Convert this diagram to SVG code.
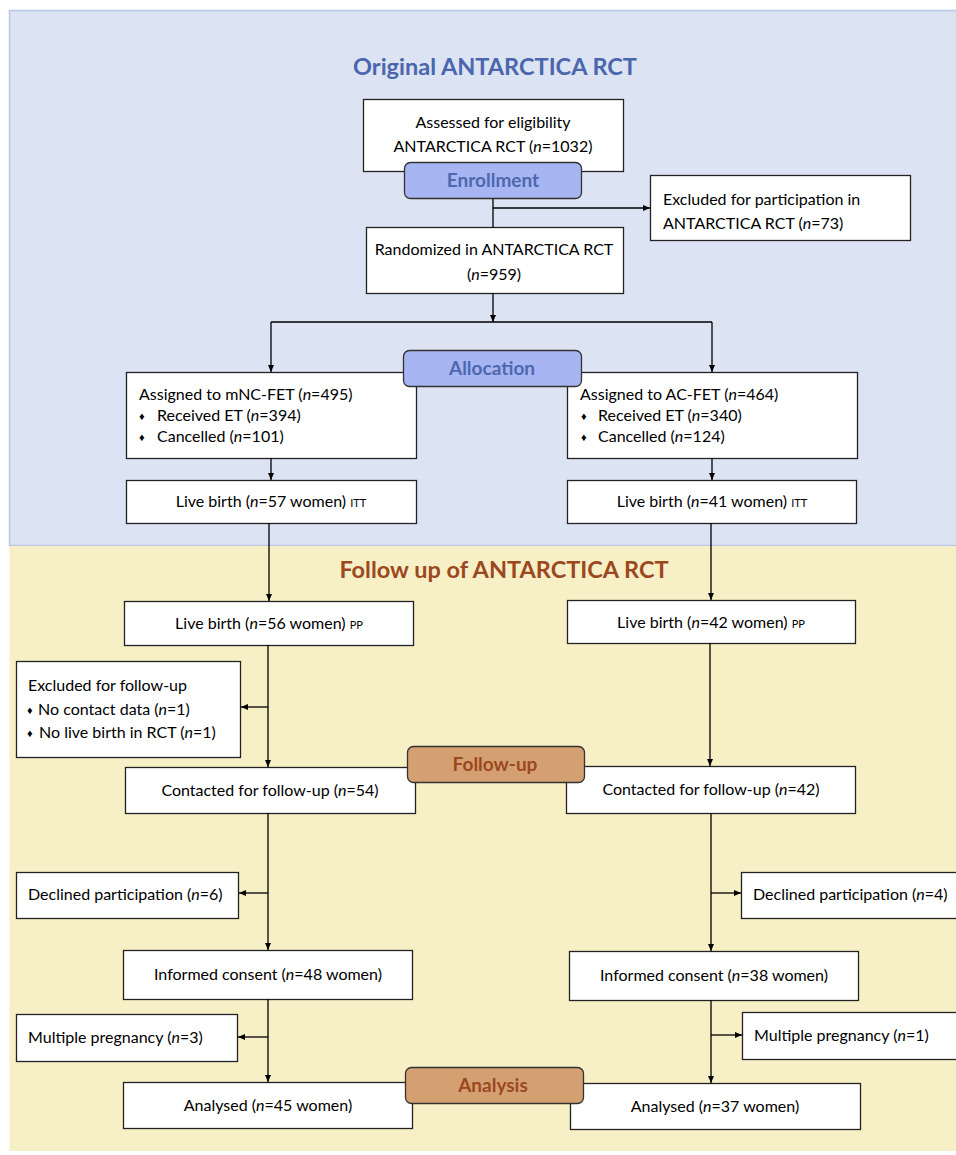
<svg xmlns="http://www.w3.org/2000/svg" width="956" height="1155" viewBox="0 0 956 1155">
<defs>
<marker id="ah" markerWidth="8" markerHeight="8" refX="7" refY="4" orient="auto" markerUnits="userSpaceOnUse">
<path d="M0,1 L7,4 L0,7 z" fill="#000"/>
</marker>
<style>
.box{fill:#fff;stroke:#222;stroke-width:1.3}
.t{font-family:Lato,"Open Sans","Liberation Sans",sans-serif;font-size:16px;fill:#000}
.c{text-anchor:middle}
.sm{font-size:11px}
.b{font-size:11px}
.con{fill:none;stroke:#000;stroke-width:1.3}
.arr{marker-end:url(#ah)}
.lblB{fill:#a7b5f3;stroke:#333;stroke-width:1.3}
.lblO{fill:#d4a072;stroke:#333;stroke-width:1.3}
.lt{font-family:Lato,"Open Sans","Liberation Sans",sans-serif;font-size:19px;font-weight:bold;text-anchor:middle}
.title{font-family:Lato,"Open Sans","Liberation Sans",sans-serif;font-size:23.5px;font-weight:bold;text-anchor:middle}
</style>
</defs>
<rect width="956" height="1155" fill="#fff"/>
<g id="panel-original">
<rect x="9.5" y="10.5" width="950" height="535" fill="#dce3f2" stroke="#b9c8e8" stroke-width="1.5"/>
<text class="title" x="495" y="75" fill="#4b66ad">Original ANTARCTICA RCT</text>
</g>
<g id="panel-followup">
<rect x="9.5" y="546" width="950" height="605" fill="#f7efc5"/>
<text class="title" x="504" y="578" fill="#9c481f">Follow up of ANTARCTICA RCT</text>
</g>

<g id="n-assessed">
<rect class="box" x="363.5" y="99.5" width="260" height="72"/>
<text class="t c" x="493" y="128">Assessed for eligibility</text>
<text class="t c" x="493" y="152">ANTARCTICA RCT (<tspan font-style="italic">n</tspan>=1032)</text>
</g>
<g id="n-excluded">
<rect class="box" x="650.5" y="175.5" width="260" height="65"/>
<text class="t" x="663" y="205">Excluded for participation in</text>
<text class="t" x="663" y="229">ANTARCTICA RCT (<tspan font-style="italic">n</tspan>=73)</text>
</g>
<g id="n-randomized">
<rect class="box" x="366.5" y="227.5" width="257" height="66"/>
<text class="t c" x="494" y="255">Randomized in ANTARCTICA RCT</text>
<text class="t c" x="494" y="280">(<tspan font-style="italic">n</tspan>=959)</text>
</g>
<g id="n-mnc">
<rect class="box" x="126.5" y="372.5" width="290" height="86"/>
<text class="t" x="139" y="400">Assigned to mNC-FET (<tspan font-style="italic">n</tspan>=495)</text>
<text class="t b" x="139" y="420">♦</text>
<text class="t" x="157" y="421">Received ET (<tspan font-style="italic">n</tspan>=394)</text>
<text class="t b" x="139" y="441">♦</text>
<text class="t" x="157" y="442">Cancelled (<tspan font-style="italic">n</tspan>=101)</text>
</g>
<g id="n-ac">
<rect class="box" x="567.5" y="372.5" width="290" height="86"/>
<text class="t" x="580" y="400">Assigned to AC-FET (<tspan font-style="italic">n</tspan>=464)</text>
<text class="t b" x="581" y="420">♦</text>
<text class="t" x="598" y="421">Received ET (<tspan font-style="italic">n</tspan>=340)</text>
<text class="t b" x="581" y="441">♦</text>
<text class="t" x="598" y="442">Cancelled (<tspan font-style="italic">n</tspan>=124)</text>
</g>
<g id="n-itt-left">
<rect class="box" x="126.5" y="480.5" width="290" height="43"/>
<text class="t c" x="271" y="507">Live birth (<tspan font-style="italic">n</tspan>=57 women) <tspan class="sm">ITT</tspan></text>
</g>
<g id="n-itt-right">
<rect class="box" x="567.5" y="480.5" width="289" height="43"/>
<text class="t c" x="712" y="507">Live birth (<tspan font-style="italic">n</tspan>=41 women) <tspan class="sm">ITT</tspan></text>
</g>
<g id="n-pp-left">
<rect class="box" x="124.5" y="601.5" width="289" height="44"/>
<text class="t c" x="269" y="629">Live birth (<tspan font-style="italic">n</tspan>=56 women) <tspan class="sm">PP</tspan></text>
</g>
<g id="n-pp-right">
<rect class="box" x="567.5" y="600.5" width="288" height="43"/>
<text class="t c" x="711" y="628">Live birth (<tspan font-style="italic">n</tspan>=42 women) <tspan class="sm">PP</tspan></text>
</g>
<g id="n-excl-fu">
<rect class="box" x="16.5" y="661.5" width="224" height="96"/>
<text class="t" x="28" y="691">Excluded for follow-up</text>
<text class="t b" x="27" y="714">♦</text>
<text class="t" x="38" y="715">No contact data (<tspan font-style="italic">n</tspan>=1)</text>
<text class="t b" x="27" y="737">♦</text>
<text class="t" x="39" y="738">No live birth in RCT (<tspan font-style="italic">n</tspan>=1)</text>
</g>
<g id="n-contact-left">
<rect class="box" x="125.5" y="767.5" width="290" height="46"/>
<text class="t c" x="270" y="796">Contacted for follow-up (<tspan font-style="italic">n</tspan>=54)</text>
</g>
<g id="n-contact-right">
<rect class="box" x="566.5" y="766.5" width="289" height="47"/>
<text class="t c" x="711" y="795">Contacted for follow-up (<tspan font-style="italic">n</tspan>=42)</text>
</g>
<g id="n-declined-left">
<rect class="box" x="16.5" y="872.5" width="222" height="46"/>
<text class="t" x="28" y="900">Declined participation (<tspan font-style="italic">n</tspan>=6)</text>
</g>
<g id="n-declined-right">
<rect class="box" x="741.5" y="872.5" width="220" height="46"/>
<text class="t" x="753" y="900">Declined participation (<tspan font-style="italic">n</tspan>=4)</text>
</g>
<g id="n-consent-left">
<rect class="box" x="123.5" y="950.5" width="289" height="49"/>
<text class="t c" x="268" y="980">Informed consent (<tspan font-style="italic">n</tspan>=48 women)</text>
</g>
<g id="n-consent-right">
<rect class="box" x="569.5" y="951.5" width="289" height="49"/>
<text class="t c" x="714" y="981">Informed consent (<tspan font-style="italic">n</tspan>=38 women)</text>
</g>
<g id="n-multi-left">
<rect class="box" x="16.5" y="1014.5" width="221" height="47"/>
<text class="t" x="28" y="1043">Multiple pregnancy (<tspan font-style="italic">n</tspan>=3)</text>
</g>
<g id="n-multi-right">
<rect class="box" x="742.5" y="1012.5" width="220" height="47"/>
<text class="t" x="754" y="1041">Multiple pregnancy (<tspan font-style="italic">n</tspan>=1)</text>
</g>
<g id="n-analysed-left">
<rect class="box" x="123.5" y="1082.5" width="289" height="46"/>
<text class="t c" x="268" y="1111">Analysed (<tspan font-style="italic">n</tspan>=45 women)</text>
</g>
<g id="n-analysed-right">
<rect class="box" x="570.5" y="1083.5" width="290" height="46"/>
<text class="t c" x="715" y="1112">Analysed (<tspan font-style="italic">n</tspan>=37 women)</text>
</g>

<g id="connectors">
<path class="con" d="M493,198 V227.5"/>
<path class="con arr" d="M493,208 H650"/>
<path class="con arr" d="M493,293 V322"/>
<path class="con" d="M271,322 H712"/>
<path class="con arr" d="M271,322 V372"/>
<path class="con arr" d="M712,322 V372"/>
<path class="con arr" d="M271,458 V480"/>
<path class="con arr" d="M712,458 V480"/>
<path class="con arr" d="M269,523 V601"/>
<path class="con arr" d="M711,523 V600"/>
<path class="con arr" d="M268,645 V767"/>
<path class="con arr" d="M268,707 H241"/>
<path class="con arr" d="M710,643 V766"/>
<path class="con arr" d="M268,813 V950"/>
<path class="con arr" d="M268,893 H239"/>
<path class="con arr" d="M711,813 V951"/>
<path class="con arr" d="M711,893 H741"/>
<path class="con arr" d="M268,999 V1082"/>
<path class="con arr" d="M268,1037 H238"/>
<path class="con arr" d="M711,1000 V1083"/>
<path class="con arr" d="M711,1035 H742"/>
</g>

<g id="lbl-enrollment">
<rect class="lblB" x="404.5" y="162.5" width="177" height="36" rx="6"/>
<text class="lt" x="493" y="187" fill="#4e68ae">Enrollment</text>
</g>
<g id="lbl-allocation">
<rect class="lblB" x="403.5" y="350.5" width="178" height="36" rx="6"/>
<text class="lt" x="492" y="375" fill="#4e68ae">Allocation</text>
</g>
<g id="lbl-followup">
<rect class="lblO" x="407.5" y="746.5" width="177" height="36" rx="6"/>
<text class="lt" x="495" y="771" fill="#9c481f">Follow-up</text>
</g>
<g id="lbl-analysis">
<rect class="lblO" x="405.5" y="1067.5" width="178" height="36" rx="6"/>
<text class="lt" x="493" y="1092" fill="#9c481f">Analysis</text>
</g>
</svg>
